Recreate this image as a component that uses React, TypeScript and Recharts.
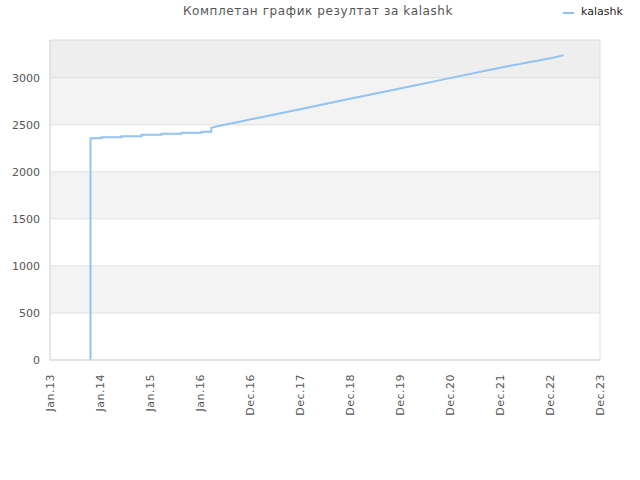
import React from "react"
import { LineChart, Line, XAxis, YAxis, ReferenceArea, ReferenceLine } from "recharts"

// x is measured in tick slots (0 = Jan.13, 11 = Dec.23)
const tickLabels = ["Jan.13", "Jan.14", "Jan.15", "Jan.16", "Dec.16", "Dec.17", "Dec.18", "Dec.19", "Dec.20", "Dec.21", "Dec.22", "Dec.23"]
const pointX = [0.81, 0.81, 0.81, 0.81, 1.03, 1.03, 1.43, 1.43, 1.83, 1.83, 2.23, 2.23, 2.63, 2.63, 3.03, 3.03, 3.22, 3.23, 3.3, 4, 5, 6, 7, 8, 9, 10, 10.27]
const scores = [0, 795, 1000, 2357, 2357, 2368, 2368, 2378, 2378, 2393, 2393, 2403, 2403, 2414, 2414, 2424, 2424, 2467, 2478, 2555, 2665, 2775, 2885, 2995, 3105, 3205, 3238]
const yTicks = [0, 500, 1000, 1500, 2000, 2500, 3000]
const bands = [
    { from: 500, to: 1000, fill: "#f3f3f3" },
    { from: 1500, to: 2000, fill: "#f3f3f3" },
    { from: 2500, to: 3000, fill: "#f3f3f3" },
    { from: 3000, to: 3400, fill: "#eeeeee" },
]

const data = pointX.map((x, i) => ({ x, score: scores[i] }))

const XTick = (props: any) => {
    const { x, y, payload } = props
    return (
        <text
            x={x}
            y={y}
            transform={`rotate(-90 ${x} ${y})`}
            dx={-6}
            dy={4}
            textAnchor="end"
            fill="#555"
            fontSize={11}
            style={{ letterSpacing: 0.5 }}
        >
            {tickLabels[payload.value]}
        </text>
    )
}

export default function App() {
    return (
        <div style={{ position: "absolute", left: 0, top: 0, width: 640, height: 480, fontFamily: "DejaVu Sans" }}>
            <div
                style={{
                    position: "absolute",
                    top: 4,
                    left: 0,
                    width: 636,
                    textAlign: "center",
                    fontSize: 12,
                    color: "#555",
                    letterSpacing: 0.6,
                }}
            >
                Комплетан график резултат за kalashk
            </div>
            <div
                style={{
                    position: "absolute",
                    top: 5,
                    left: 563,
                    display: "flex",
                    alignItems: "center",
                    fontSize: 11,
                    color: "#222",
                }}
            >
                <svg width={12} height={10} style={{ marginRight: 6 }}>
                    <line x1={0} y1={6} x2={11} y2={6} stroke="#90c3f3" strokeWidth={2} />
                </svg>
                kalashk
            </div>
            <LineChart width={640} height={480} data={data} margin={{ top: 40, right: 40, bottom: 0, left: 0 }}>
                {bands.map((b) => (
                    <ReferenceArea key={b.from} y1={b.from} y2={b.to} fill={b.fill} fillOpacity={1} stroke="none" ifOverflow="hidden" />
                ))}
                {yTicks.map((t) => (
                    <ReferenceLine key={t} y={t} stroke="#e0e0e0" />
                ))}
                <ReferenceArea x1={0} x2={11} y1={0} y2={3400} fill="none" stroke="#dddddd" />
                <XAxis
                    dataKey="x"
                    type="number"
                    domain={[0, 11]}
                    ticks={tickLabels.map((_, i) => i)}
                    interval={0}
                    tick={<XTick />}
                    tickLine={false}
                    axisLine={{ stroke: "#dddddd" }}
                    height={120}
                />
                <YAxis
                    type="number"
                    domain={[0, 3400]}
                    ticks={yTicks}
                    width={50}
                    tickLine={false}
                    axisLine={{ stroke: "#dddddd" }}
                    tick={{ fill: "#555", fontSize: 11 }}
                    tickMargin={4}
                />
                <Line
                    type="linear"
                    dataKey="score"
                    stroke="#90c3f3"
                    strokeWidth={2}
                    dot={false}
                    isAnimationActive={false}
                />
            </LineChart>
        </div>
    )
}
